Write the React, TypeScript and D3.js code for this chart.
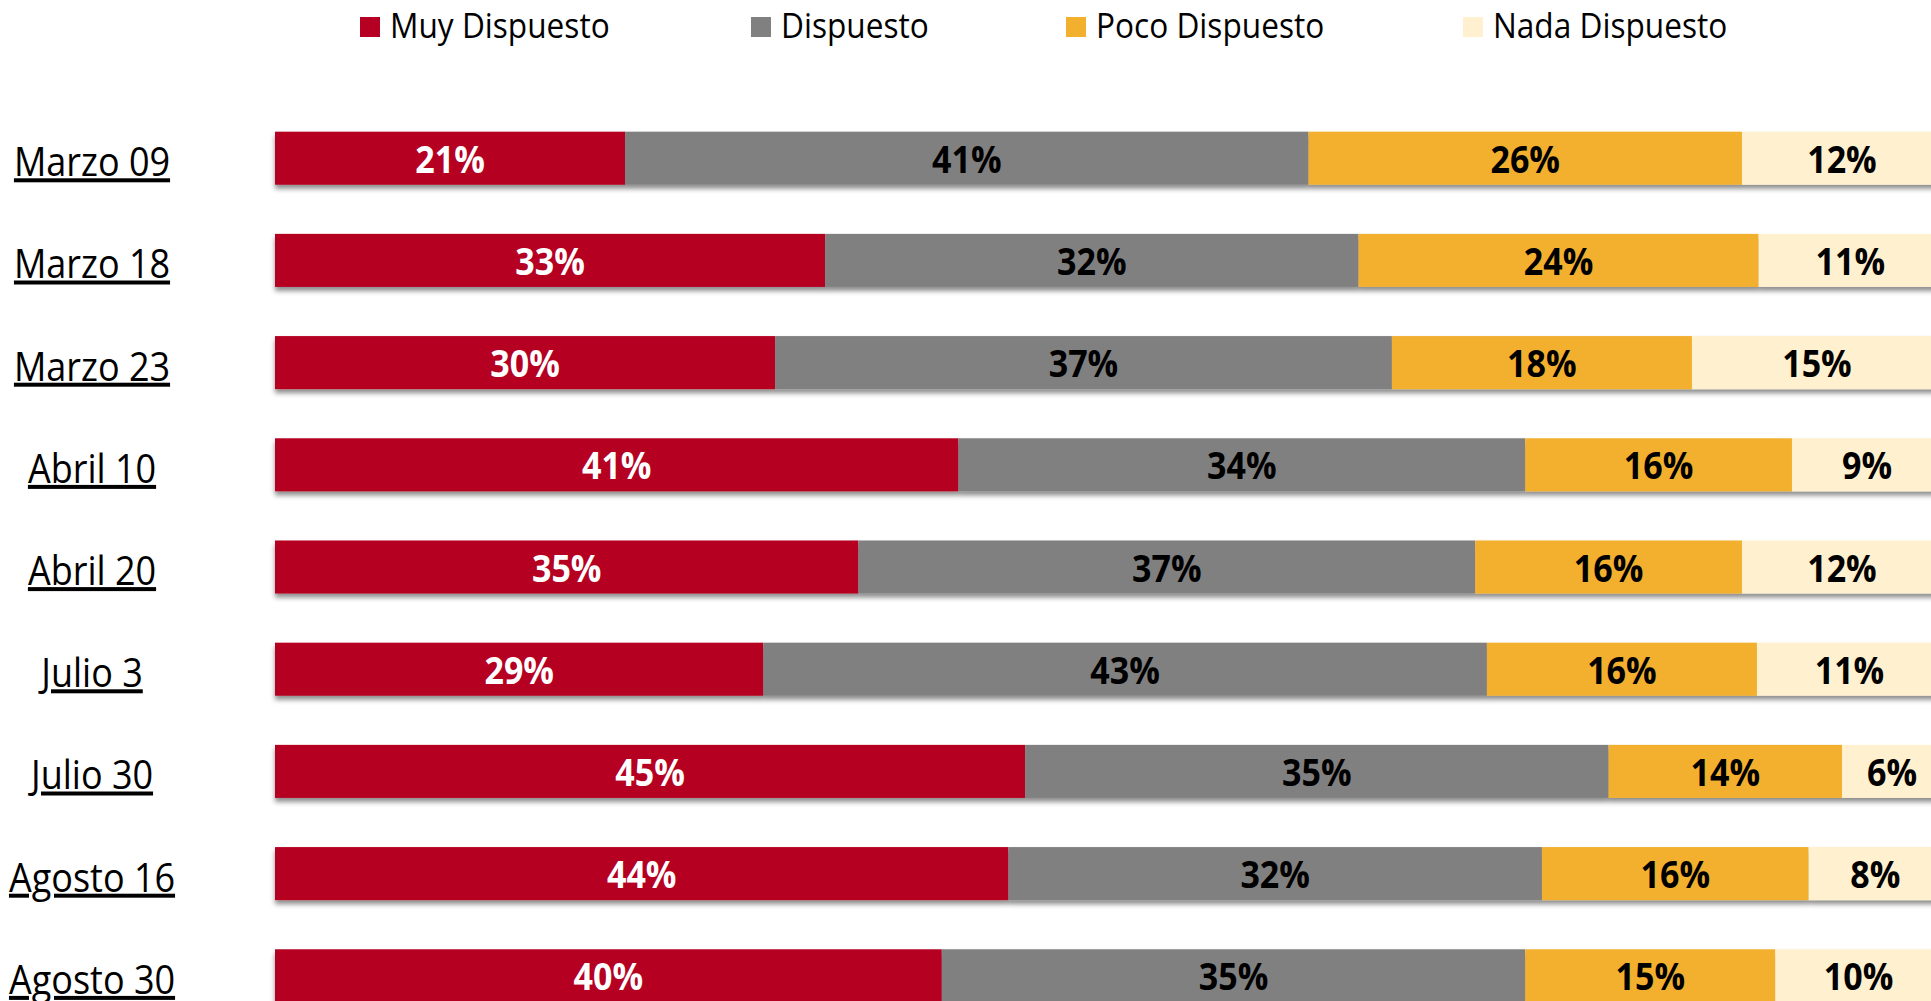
import * as d3 from "d3";

const fechas = [
  "Marzo 09",
  "Marzo 18",
  "Marzo 23",
  "Abril 10",
  "Abril 20",
  "Julio 3",
  "Julio 30",
  "Agosto 16",
  "Agosto 30",
];

const series = ["Muy Dispuesto", "Dispuesto", "Poco Dispuesto", "Nada Dispuesto"];

const muyDispuesto = [21, 33, 30, 41, 35, 29.3, 45, 44, 40];
const dispuesto = [41, 32, 37, 34, 37, 43.4, 35, 32, 35];
const pocoDispuesto = [26, 24, 18, 16, 16, 16.2, 14, 16, 15];
const nadaDispuesto = [12, 11, 15, 9, 12, 11.1, 6, 8, 10];

const colors = ["#b50024", "#808080", "#f3b02f", "#fff0cf"];
const textColors = ["#ffffff", "#000000", "#000000", "#000000"];

const W = 1931;
const H = 1001;
const font = "'Open Sans', 'Noto Sans', sans-serif";

export default function App() {
  const rows = fechas.map((f, i) => ({
    fecha: f,
    "Muy Dispuesto": muyDispuesto[i],
    Dispuesto: dispuesto[i],
    "Poco Dispuesto": pocoDispuesto[i],
    "Nada Dispuesto": nadaDispuesto[i],
  }));
  const stacked = d3.stack<any>().keys(series)(rows);

  const x = d3.scaleLinear().domain([0, 100]).range([275, 1942]);
  const y = d3
    .scaleBand()
    .domain(fechas)
    .range([107.1, 1026.9])
    .paddingInner(0.481)
    .paddingOuter(0.2405);
  const color = d3.scaleOrdinal<string>().domain(series).range(colors);
  const txtColor = d3.scaleOrdinal<string>().domain(series).range(textColors);

  // legend positions (square left edge)
  const legendX = [360, 751, 1066, 1463];

  return (
    <svg
      width={W}
      height={H}
      style={{ position: "absolute", left: 0, top: 0, display: "block", background: "#fff" }}
      fontFamily={font}
    >
      <defs>
        <filter id="sombra" x="-5%" y="-20%" width="110%" height="160%">
          <feDropShadow dx="0" dy="4" stdDeviation="2.5" floodColor="#000" floodOpacity="0.45" />
        </filter>
      </defs>

      {/* leyenda */}
      {series.map((s, i) => (
        <g key={s} transform={`translate(${legendX[i]},0)`}>
          <rect x={0} y={17} width={20} height={20} fill={color(s)} />
          <text transform="translate(30,38) scale(0.93,1)" fontSize={34} fill="#000">
            {s}
          </text>
        </g>
      ))}

      {/* etiquetas de filas */}
      {fechas.map((f) => (
        <text
          key={f}
          transform={`translate(92,${(y(f) as number) + y.bandwidth() / 2 + 18}) scale(0.9,1)`}
          textAnchor="middle"
          fontSize={40}
          textDecoration="underline"
          fill="#000"
        >
          {f}
        </text>
      ))}

      {/* barras */}
      {fechas.map((f, i) => (
        <g key={f} filter="url(#sombra)">
          {stacked.map((layer) => (
            <rect
              key={layer.key}
              x={x(layer[i][0])}
              y={y(f)}
              width={x(layer[i][1]) - x(layer[i][0])}
              height={y.bandwidth()}
              fill={color(layer.key)}
            />
          ))}
        </g>
      ))}

      {/* valores */}
      {fechas.map((f, i) =>
        stacked.map((layer) => (
          <text
            key={f + layer.key}
            transform={`translate(${(x(layer[i][0]) + x(layer[i][1])) / 2},${
              (y(f) as number) + y.bandwidth() / 2 + 14.5
            }) scale(0.92,1)`}
            textAnchor="middle"
            fontSize={37}
            fontWeight="bold"
            fill={txtColor(layer.key)}
          >
            {d3.format(".0f")(layer[i][1] - layer[i][0]) + "%"}
          </text>
        ))
      )}
    </svg>
  );
}
